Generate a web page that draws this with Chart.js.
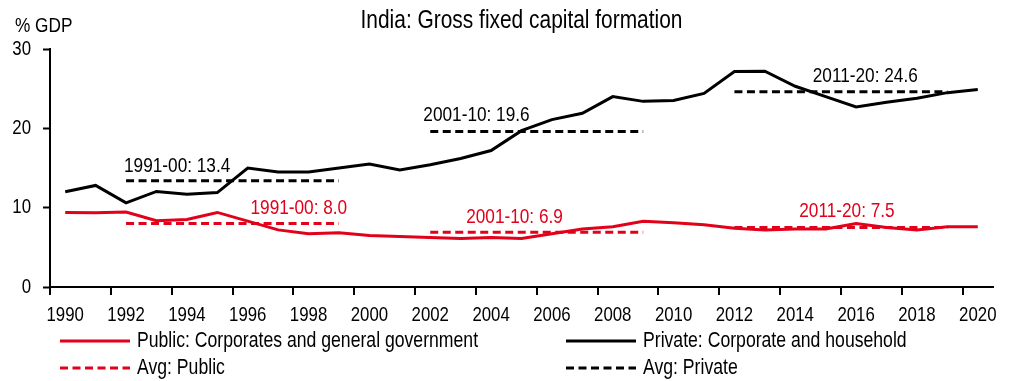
<!DOCTYPE html>
<html>
<head>
<meta charset="utf-8">
<script src="https://cdn.jsdelivr.net/npm/chart.js@4.4.1/dist/chart.umd.min.js"></script>
<style>
  html, body { margin: 0; padding: 0; background: #fff; }
  #wrap { width: 1014px; height: 381px; position: relative; }
</style>
</head>
<body>
<div id="wrap"><canvas id="chart"></canvas></div>
<script>
// Gross fixed capital formation, % of GDP
const years = ['1990','1991','1992','1993','1994','1995','1996','1997','1998','1999',
               '2000','2001','2002','2003','2004','2005','2006','2007','2008','2009',
               '2010','2011','2012','2013','2014','2015','2016','2017','2018','2019','2020'];

const publicGfcf = [9.4, 9.35, 9.45, 8.35, 8.5, 9.4, 8.3, 7.2, 6.7, 6.85,
                    6.5, 6.35, 6.25, 6.1, 6.25, 6.1, 6.7, 7.3, 7.6, 8.3,
                    8.1, 7.85, 7.4, 7.2, 7.3, 7.3, 8.0, 7.5, 7.2, 7.6, 7.6];

const privateGfcf = [12.0, 12.8, 10.6, 12.05, 11.7, 11.9, 15.0, 14.5, 14.5, 15.0,
                     15.5, 14.75, 15.4, 16.2, 17.2, 19.7, 21.1, 21.9, 24.0, 23.4,
                     23.5, 24.4, 27.15, 27.2, 25.3, 24.0, 22.7, 23.3, 23.8, 24.5, 24.9];

// Decade averages and the years each average line spans
const periods = ['1991-00', '2001-10', '2011-20'];
const publicAvg = [8.0, 6.9, 7.5];
const privateAvg = [13.4, 19.6, 24.6];
const avgFrom = ['1992', '2002', '2012'];
const avgTo = ['1999', '2009', '2019'];

const yTicks = [0, 10, 20, 30];

// Placement of the average labels: category position and lift above the line (px)
const publicLabelAt = [7.68, 14.77, 25.7];
const privateLabelAt = [3.68, 13.52, 26.3];
const publicLabelLift = [15.5, 15.5, 16];
const privateLabelLift = [14, 16.5, 16];

const FONT = '"Liberation Sans", Arial, sans-serif';
const NARROW = 0.82;   // horizontal squeeze giving a narrow sans face
const RED = '#e2001a';
const BLACK = '#000000';

function decadeSeries(avgs) {
  return years.map(y => {
    for (let k = 0; k < avgs.length; k++) {
      if (+y >= +avgFrom[k] && +y <= +avgTo[k]) return avgs[k];
    }
    return null;
  });
}

// Condensed text rendering: every string is squeezed horizontally around its anchor,
// and measurements are reported at the squeezed width so layout stays consistent.
function condenseText(ctx, f) {
  const fill = ctx.fillText.bind(ctx);
  const measure = ctx.measureText.bind(ctx);
  ctx.fillText = function (text, x, y, maxWidth) {
    ctx.save();
    ctx.translate(x, y);
    ctx.scale(f, 1);
    if (maxWidth !== undefined) fill(text, 0, 0, maxWidth / f); else fill(text, 0, 0);
    ctx.restore();
  };
  ctx.measureText = function (text) {
    const m = measure(text);
    return {
      width: m.width * f,
      actualBoundingBoxLeft: m.actualBoundingBoxLeft * f,
      actualBoundingBoxRight: m.actualBoundingBoxRight * f,
      actualBoundingBoxAscent: m.actualBoundingBoxAscent,
      actualBoundingBoxDescent: m.actualBoundingBoxDescent,
      fontBoundingBoxAscent: m.fontBoundingBoxAscent,
      fontBoundingBoxDescent: m.fontBoundingBoxDescent
    };
  };
}

// Text labels for each decade average, positioned through the chart scales
const decadeLabels = {
  id: 'decadeLabels',
  afterDatasetsDraw(chart) {
    const { ctx, scales: { x, y } } = chart;
    ctx.save();
    ctx.font = '21px ' + FONT;
    ctx.textAlign = 'center';
    ctx.textBaseline = 'middle';
    [[privateAvg, privateLabelAt, privateLabelLift, BLACK],
     [publicAvg, publicLabelAt, publicLabelLift, RED]].forEach(([vals, at, lift, col]) => {
      ctx.fillStyle = col;
      vals.forEach((v, k) => {
        ctx.fillText(periods[k] + ': ' + v.toFixed(1), x.getPixelForValue(at[k]), y.getPixelForValue(v) - lift[k]);
      });
    });
    ctx.restore();
  }
};

// Unit caption above the value axis
const unitCaption = {
  id: 'unitCaption',
  afterDraw(chart) {
    const ctx = chart.ctx;
    ctx.save();
    ctx.font = '21px ' + FONT;
    ctx.fillStyle = BLACK;
    ctx.textAlign = 'left';
    ctx.textBaseline = 'middle';
    ctx.fillText('% GDP', 15, 26);
    ctx.restore();
  }
};

// Two-column legend below the axis
const gridLegend = {
  id: 'gridLegend',
  afterDraw(chart) {
    const ctx = chart.ctx;
    const cols = [60, 566];
    const rows = [341, 368];
    const sample = 70;
    ctx.save();
    ctx.font = '21.5px ' + FONT;
    ctx.textAlign = 'left';
    ctx.textBaseline = 'middle';
    chart.data.datasets.forEach((ds, i) => {
      const lx = cols[i % 2];
      const ly = rows[Math.floor(i / 2)];
      ctx.beginPath();
      ctx.setLineDash(ds.borderDash || []);
      ctx.lineWidth = ds.borderWidth;
      ctx.strokeStyle = ds.borderColor;
      ctx.lineCap = 'butt';
      ctx.moveTo(lx, ly);
      ctx.lineTo(lx + sample, ly);
      ctx.stroke();
      ctx.setLineDash([]);
      ctx.fillStyle = BLACK;
      ctx.fillText(ds.label, lx + sample + 7, ly);
    });
    ctx.restore();
  }
};

Chart.defaults.font.family = FONT;
Chart.defaults.color = BLACK;

const canvas = document.getElementById('chart');
const context = canvas.getContext('2d');
condenseText(context, NARROW);

new Chart(context, {
  type: 'line',
  data: {
    labels: years,
    datasets: [
      { label: 'Public: Corporates and general government', data: publicGfcf,
        borderColor: RED, borderWidth: 3, pointRadius: 0, tension: 0, fill: false },
      { label: 'Private: Corporate and household', data: privateGfcf,
        borderColor: BLACK, borderWidth: 3, pointRadius: 0, tension: 0, fill: false },
      { label: 'Avg: Public', data: decadeSeries(publicAvg),
        borderColor: RED, borderWidth: 3, borderDash: [8, 4.5], pointRadius: 0, spanGaps: false, fill: false },
      { label: 'Avg: Private', data: decadeSeries(privateAvg),
        borderColor: BLACK, borderWidth: 3, borderDash: [8, 4.5], pointRadius: 0, spanGaps: false, fill: false }
    ]
  },
  options: {
    responsive: true,
    maintainAspectRatio: false,
    animation: false,
    devicePixelRatio: 1,
    layout: { padding: { left: 0, right: 21, top: 0, bottom: 54 } },
    plugins: {
      legend: { display: false },
      tooltip: { enabled: false },
      title: {
        display: true,
        text: 'India: Gross fixed capital formation',
        fullSize: false,
        color: BLACK,
        font: { family: FONT, size: 25.5, weight: 'normal', lineHeight: 1.2 },
        padding: { top: 6, bottom: 12.4 }
      }
    },
    scales: {
      x: {
        type: 'category',
        offset: true,
        grid: {
          offset: true,
          drawOnChartArea: false,
          drawTicks: true,
          tickLength: 8,
          tickWidth: 2,
          lineWidth: 2,
          tickColor: c => (c.index !== undefined && c.index % 2 === 0) ? BLACK : 'rgba(0,0,0,0)',
          color: 'rgba(0,0,0,0)'
        },
        border: { display: true, color: BLACK, width: 2 },
        ticks: {
          autoSkip: false,
          maxRotation: 0,
          minRotation: 0,
          padding: 8,
          color: BLACK,
          font: { family: FONT, size: 20.5 },
          callback: function (v, i) { return i % 2 === 0 ? this.getLabelForValue(v) : ''; }
        },
        afterFit(scale) { scale.height = 40; }
      },
      y: {
        min: yTicks[0],
        max: yTicks[yTicks.length - 1],
        afterBuildTicks(scale) { scale.ticks = yTicks.map(v => ({ value: v })); },
        grid: { drawOnChartArea: false, tickLength: 7, tickWidth: 2, tickColor: BLACK, color: BLACK },
        border: { display: true, color: BLACK, width: 2 },
        ticks: { padding: 12, color: BLACK, font: { family: FONT, size: 20.5 } },
        afterFit(scale) { scale.width = 50; }
      }
    }
  },
  plugins: [decadeLabels, unitCaption, gridLegend]
});
</script>
</body>
</html>
